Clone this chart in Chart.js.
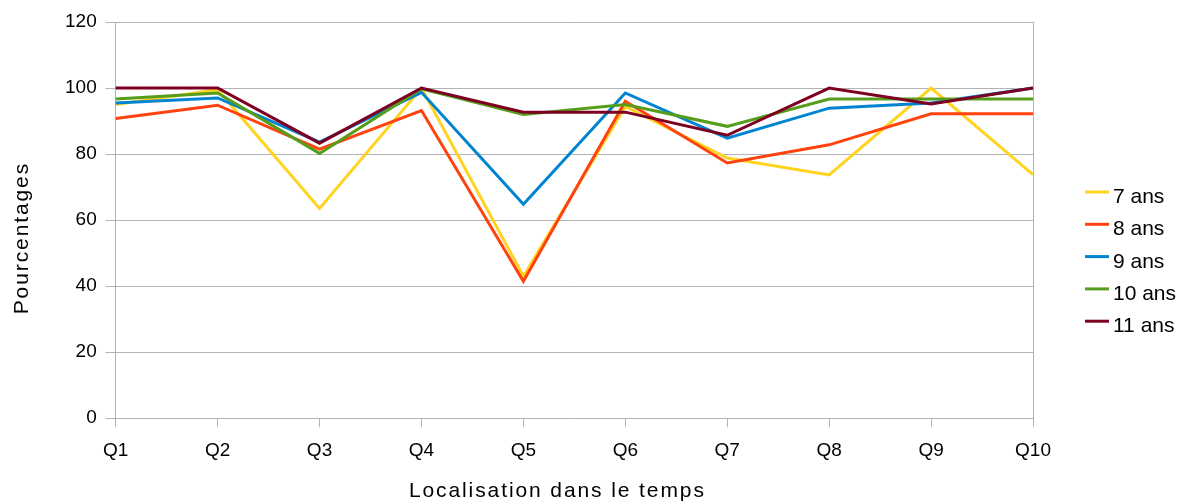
<!DOCTYPE html>
<html>
<head>
<meta charset="utf-8">
<script src="https://cdn.jsdelivr.net/npm/chart.js@4"></script>
<style>
  html, body { margin: 0; padding: 0; background: #fff; }
  #wrap { width: 1181px; height: 501px; }
</style>
</head>
<body>
<div id="wrap"><canvas id="chart" width="1181" height="501"></canvas></div>
<script>
const categories = ['Q1', 'Q2', 'Q3', 'Q4', 'Q5', 'Q6', 'Q7', 'Q8', 'Q9', 'Q10'];
const ans7 = [95, 99.5, 63.5, 100, 43, 94.4, 78.8, 73.7, 100, 73.8];
const ans8 = [90.8, 94.8, 81.5, 93.2, 41.5, 96, 77.3, 82.8, 92.2, 92.2];
const ans9 = [95.5, 97, 83.6, 98.7, 64.8, 98.5, 84.8, 93.9, 95.5, 100];
const ans10 = [96.7, 98.5, 80.2, 99.8, 92, 95, 88.4, 96.7, 96.7, 96.7];
const ans11 = [100, 100, 83.3, 100, 92.7, 92.7, 85.7, 100, 95.2, 100];
const yTicks = [0, 20, 40, 60, 80, 100, 120];
const xTitle = 'Localisation dans le temps';
const yTitle = 'Pourcentages';

const font = 'Liberation Sans, Arial, sans-serif';
const gridGray = '#b3b3b3';

function series(label, data, color, order) {
  return {
    label: label,
    data: data,
    borderColor: color,
    backgroundColor: color,
    borderWidth: 3,
    pointRadius: 0,
    pointHoverRadius: 0,
    tension: 0,
    fill: false,
    order: order
  };
}

// axis titles (with the wider letter spacing of the original) and the legend
const extras = {
  id: 'extras',
  afterDraw(chart) {
    const c = chart.ctx;
    const area = chart.chartArea;
    c.save();
    c.fillStyle = '#000';
    c.font = '21px ' + font;
    c.letterSpacing = '1.9px';
    c.textAlign = 'center';
    c.textBaseline = 'alphabetic';
    c.fillText(xTitle, (area.left + area.right) / 2 - 17, 497);
    c.save();
    c.translate(28, (area.top + area.bottom) / 2 + 18);
    c.rotate(-Math.PI / 2);
    c.fillText(yTitle, 0, 0);
    c.restore();

    // legend
    c.letterSpacing = '0px';
    c.textAlign = 'left';
    chart.data.datasets.forEach((ds, i) => {
      const y = 192 + i * 32.3;
      c.strokeStyle = ds.borderColor;
      c.lineWidth = 3;
      c.beginPath();
      c.moveTo(1085, y);
      c.lineTo(1109, y);
      c.stroke();
      c.fillText(ds.label, 1113, y + 11);
    });
    c.restore();
  }
};

const ctx = document.getElementById('chart').getContext('2d');
new Chart(ctx, {
  type: 'line',
  data: {
    labels: categories,
    datasets: [
      series('7 ans', ans7, '#ffd320', 5),
      series('8 ans', ans8, '#ff420e', 4),
      series('9 ans', ans9, '#0084d1', 3),
      series('10 ans', ans10, '#579d1c', 2),
      series('11 ans', ans11, '#7e0021', 1)
    ]
  },
  plugins: [extras],
  options: {
    responsive: false,
    animation: false,
    layout: { padding: { top: 22, right: 140, left: 56, bottom: 27 } },
    plugins: {
      tooltip: { enabled: false },
      legend: { display: false }
    },
    scales: {
      x: {
        offset: false,
        grid: { drawOnChartArea: false, tickLength: 9, tickColor: gridGray },
        border: { color: gridGray, width: 1 },
        ticks: { color: '#000', font: { family: font, size: 19 }, padding: 12, maxRotation: 0 }
      },
      y: {
        min: 0,
        max: 120,
        afterBuildTicks: function(scale) {
          scale.ticks = yTicks.map(v => ({ value: v }));
        },
        grid: { color: gridGray, tickLength: 10, tickColor: gridGray },
        border: { color: gridGray, width: 1 },
        ticks: { color: '#000', font: { family: font, size: 19 }, padding: 9 }
      },
      yRight: {
        position: 'right',
        min: 0,
        max: 120,
        ticks: { display: false },
        grid: { display: false },
        border: { color: gridGray, width: 1 }
      }
    }
  }
});
</script>
</body>
</html>
